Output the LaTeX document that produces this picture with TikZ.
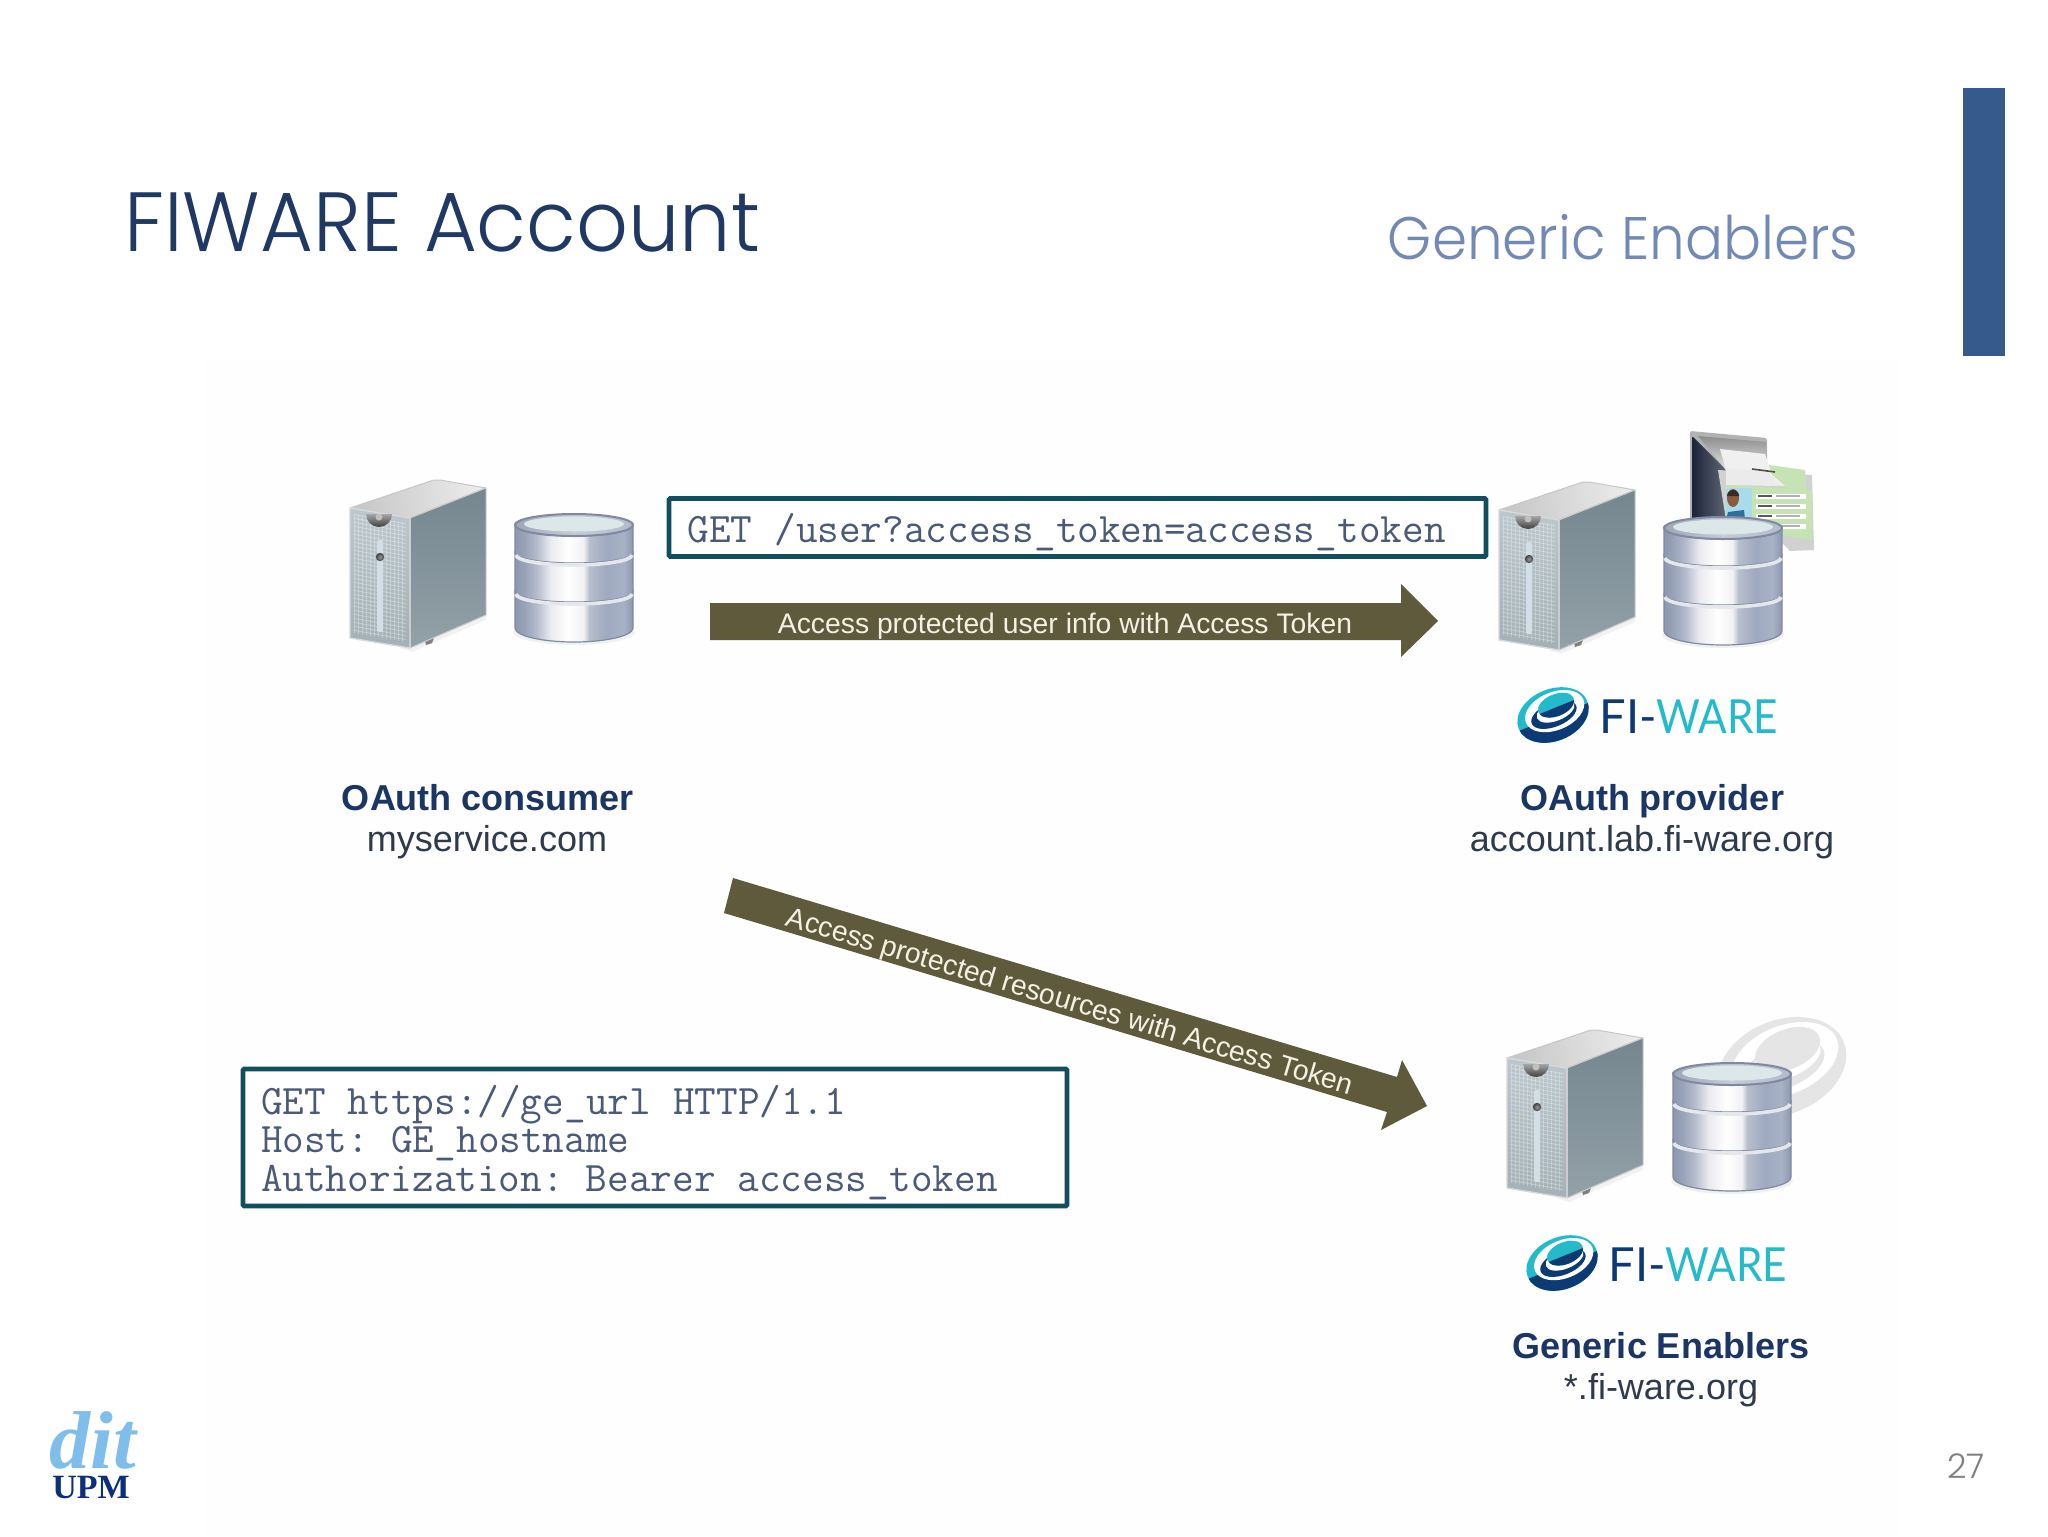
\documentclass[tikz,border=0pt]{standalone}
\usepackage{fontspec}
\setmainfont{Liberation Sans}
\newfontfamily\seriff{Liberation Serif}
\newfontfamily\gothic{Poppins Light}
\newfontfamily\logof{Lato}
\definecolor{navy}{HTML}{1F3864}
\definecolor{slideblue}{HTML}{375A8C}
\definecolor{lightblue}{HTML}{7189B4}
\definecolor{teal}{HTML}{0F4F5E}
\definecolor{codeink}{HTML}{4A5A78}
\definecolor{olive}{HTML}{5F5A3C}
\definecolor{cream}{HTML}{F4F1E4}
\definecolor{labelnavy}{HTML}{1B3564}
\definecolor{labelink}{HTML}{2F3A4C}
\definecolor{logonavy}{HTML}{0C3A75}
\definecolor{logocyan}{HTML}{23BBCB}
\definecolor{sideT}{HTML}{75868F}
\definecolor{sideB}{HTML}{93A1A8}
\definecolor{frontT}{HTML}{BCC8CE}
\definecolor{frontB}{HTML}{A3B0B6}
\definecolor{slit}{HTML}{D3DFE6}
\definecolor{dbrim}{HTML}{7F89A0}
\definecolor{dbface}{HTML}{DCE7E9}
\definecolor{faint}{HTML}{FEFEFE}
\definecolor{ditblue}{HTML}{7FBDEB}
\definecolor{upmblue}{HTML}{0B2F7C}
\definecolor{night}{HTML}{1B2438}
\definecolor{card}{HTML}{C5E3B4}
\definecolor{sky}{HTML}{A8DCEB}
\definecolor{skin}{HTML}{8A5A3C}
\definecolor{hair}{HTML}{3A2A20}
\definecolor{shirt}{HTML}{2F6FA0}
% a shade's path box spans 25bp..75bp of the declared 100bp
\pgfdeclarehorizontalshading{dbshade}{100bp}{
 rgb(0bp)=(.55,.59,.68); rgb(25bp)=(.55,.59,.68); rgb(29bp)=(.60,.64,.72); rgb(34bp)=(.70,.73,.80);
 rgb(40bp)=(.92,.92,.94); rgb(47.5bp)=(1,1,1); rgb(54bp)=(.95,.95,.96);
 rgb(56.5bp)=(.72,.75,.80); rgb(64bp)=(.62,.66,.75); rgb(71bp)=(.66,.70,.78); rgb(75bp)=(.55,.59,.68); rgb(100bp)=(.55,.59,.68)}
\pgfdeclarehorizontalshading{topshade}{100bp}{
 rgb(0bp)=(.62,.65,.72); rgb(25bp)=(.62,.65,.72); rgb(50bp)=(.78,.80,.84); rgb(75bp)=(.70,.73,.80); rgb(100bp)=(.70,.73,.80)}
\newcommand{\serverpic}{%
 \fill[gray!35,opacity=.25] (400,648) -- (430,640) -- (478,618) -- (486,616) -- (486,620) -- (412,652) -- cycle;
 \fill[black!50] (425,641) -- (434,638) -- (432,643) -- (426,645) -- cycle;
 \fill[black!50] (472,617) -- (481,613) -- (479,618) -- (474,620) -- cycle;
 \shade[top color=black!22,bottom color=black!8,shading angle=100,draw=black!22,line width=.5pt,line join=round]
   (350,508) -- (434,480) -- (440,480) -- (486,488) -- (410,518) -- cycle;
 \shade[top color=sideT,bottom color=sideB,draw=black!20,line width=.5pt,line join=round]
   (410,518) -- (486,488) -- (486,615) -- (410,648) -- cycle;
 \shade[top color=frontT,bottom color=frontB,draw=black!15,line width=.7pt,line join=round]
   (350,508) -- (410,518) -- (410,648) -- (350,638) -- cycle;
 \begin{scope}
  \clip (354,514) -- (406,523) -- (406,642) -- (354,633) -- cycle;
  \foreach \yy in {514,518,...,642} {\draw[white,opacity=.28,line width=.5pt] (352,\yy) -- (408,\yy+10);}
  \foreach \xx in {354,358,...,406} {\draw[white,opacity=.28,line width=.5pt] (\xx,510) -- (\xx,650);}
 \end{scope}
 \shade[top color=black!35,bottom color=black!75] (366,514) arc[start angle=180,end angle=0,radius=13] -- cycle;
 \fill[black!25] (379,517) circle[radius=3.5];
 \fill[slit,rounded corners=1pt] (377,540) rectangle (383,632);
 \shade[inner color=black!40,outer color=black!75] (380,557) circle[radius=4.2];
}
\newcommand{\dbpic}{%
 \fill[gray!40,opacity=.25] (519,620) -- (629,620) -- (635,632) arc[start angle=0,end angle=180,x radius=61,y radius=13] -- cycle;
 \foreach \yt/\yb/\ra/\rb in {592/628/10/14,553/592/10/10,525/553/11/10} {
  \shade[shading=dbshade,draw=dbrim,line width=.6pt]
    (515,\yt) arc[start angle=180,end angle=0,x radius=59,y radius=\ra] -- (633,\yb)
    arc[start angle=0,end angle=180,x radius=59,y radius=\rb] -- cycle;
 }
 \draw[white!80!dbrim,line width=1.8pt] (516,555) arc[start angle=180,end angle=0,x radius=58,y radius=10];
 \draw[white!80!dbrim,line width=1.8pt] (516,594) arc[start angle=180,end angle=0,x radius=58,y radius=10];
 \shade[shading=topshade,draw=dbrim,line width=1pt] (574,525) ellipse[x radius=59,y radius=11];
 \fill[dbface] (574,524) ellipse[x radius=50,y radius=7.5];
}
\newcommand{\swirlpic}[2]{%
 \begin{scope}[rotate=22]
  \fill[#1] (0,0) ellipse[x radius=37,y radius=26];
  \begin{scope}
   \clip (-40,2) rectangle (40,30);
   \fill[#2] (0,0) ellipse[x radius=37,y radius=26];
  \end{scope}
  \fill[white] (3,-3) ellipse[x radius=31,y radius=19];
  \fill[#2] (1,0) ellipse[x radius=24,y radius=12];
  \fill[white] (4,-3) ellipse[x radius=20,y radius=10];
  \fill[#1] (6.5,-8) ellipse[x radius=19,y radius=11];
  \begin{scope}
   \clip (-15,-6) rectangle (40,20);
   \fill[#2] (6.5,-8) ellipse[x radius=19,y radius=11];
  \end{scope}
 \end{scope}
}
% fixed-width space and underscore for the code boxes
\newcommand{\csp}{\hspace*{.525em}}
\newcommand{\cus}{\makebox[.525em][c]{\_}}
\newcommand{\cstrut}{\rule{0pt}{19.5pt}}
\tikzset{
 codebox/.style={draw=teal,line width=2.4pt,fill=white,rounded corners=.6pt,align=left,inner ysep=0pt,
   font=\ttfamily\fontsize{21}{19.4}\selectfont,text=codeink},
 bigarrow/.style={fill=olive},
 arrowlabel/.style={text=cream,inner sep=0pt,font=\fontsize{14.15}{16}\selectfont},
 headlabel/.style={anchor=base,text=labelnavy,inner sep=0pt,font=\bfseries\fontsize{18}{20}\selectfont},
 hostlabel/.style={anchor=base,text=labelink,inner sep=0pt,font=\fontsize{18}{20}\selectfont},
 fiA/.style={anchor=base west,inner sep=0pt,font=\logof\fontsize{23.5}{24}\selectfont},
}
\begin{document}
\begin{tikzpicture}[x=.5pt,y=-.5pt]
\useasboundingbox (0,0) rectangle (2048,1536);
\fill[white] (0,0) rectangle (2048,1536);
\fill[faint] (204,360) rectangle (1900,1536);
% slide furniture
\fill[slideblue] (1963,88) rectangle (2005,356);
\node[anchor=base west,inner sep=0pt,text=navy,xscale=.966,font=\gothic\fontsize{42}{44}\selectfont] (title) at (124,251) {FIWARE Account};
\node[anchor=base east,inner sep=0pt,text=lightblue,xscale=.94,font=\gothic\fontsize{30}{32}\selectfont] (sub) at (1859,259) {Generic Enablers};
\node[anchor=base east,inner sep=0pt,text=black!50,font=\gothic\fontsize{17}{19}\selectfont] (page) at (1985,1478) {27};
% dit logo
\node[anchor=base,inner sep=0pt,text=ditblue,font=\seriff\bfseries\itshape\fontsize{41}{42}\selectfont] (dit) at (93,1468) {dit};
\node[anchor=base,inner sep=0pt,text=upmblue,font=\seriff\bfseries\fontsize{17}{18}\selectfont] (upm) at (91,1498) {UPM};
% left group
\serverpic
\dbpic
\node[headlabel] (oc) at (488,810) {OAuth consumer};
\node[hostlabel] (ms) at (487,851) {myservice.com};
% folder icon behind the provider database
\fill[black!30,rounded corners=1pt] (1690,431) -- (1767,438) -- (1767,520) -- (1690,520) -- cycle;
\shade[left color=night,right color=night!70,rounded corners=1pt] (1692,436) -- (1726,470) -- (1726,520) -- (1692,520) -- cycle;
\shade[top color=black!45,bottom color=black!10] (1698,436) -- (1766,442) -- (1766,465) -- (1726,470) -- cycle;
\fill[black!18] (1718,470) -- (1812,475) -- (1814,550) -- (1790,551) -- (1760,520) -- (1726,520) -- cycle;
\fill[card] (1755,463) -- (1805,470) -- (1807,490) -- (1772,486) -- (1762,478) -- cycle;
\fill[black!6] (1720,449) -- (1765,454) -- (1772,475) -- (1785,486) -- (1726,480) -- (1726,470) -- cycle;
\fill[black!8] (1726,468) -- (1768,472) -- (1778,486) -- (1726,485) -- cycle;
\draw[black!70,line width=.8pt] (1752,469) -- (1775,472);
\fill[card] (1726,485) -- (1812,490) -- (1812,540) -- (1785,536) -- (1726,520) -- cycle;
\fill[sky] (1726,488) rectangle (1752,520);
\fill[skin] (1733,498) ellipse[x radius=6,y radius=9];
\fill[hair] (1727,496) arc[start angle=180,end angle=360,radius=6] -- cycle;
\fill[shirt] (1726,520) -- (1728,512) -- (1744,510) -- (1745,520) -- cycle;
\foreach \yy in {494,504,514,524} {\fill[white] (1756,\yy) rectangle (1806,\yy+5); \fill[black!65] (1758,\yy+1) rectangle (1772,\yy+3);\fill[black!30] (1776,\yy+1) rectangle (1800,\yy+3);}
% provider group
\begin{scope}[shift={(1149,2)}]
 \serverpic
\end{scope}
\begin{scope}[shift={(1149,3)}]
 \dbpic
\end{scope}
\begin{scope}[shift={(1553,715)}]
 \swirlpic{logocyan}{logonavy}
\end{scope}
\node[fiA,text=logonavy] (fi1) at (1599,733) {FI-};
\node[fiA,text=logocyan,xscale=.9] (ware1) at (1656,733) {WARE};
\node[headlabel] (op) at (1652,810) {OAuth provider};
\node[hostlabel] (ol) at (1652,851) {account.lab.fi-ware.org};
% generic enablers group
\begin{scope}[shift={(1782,1067)},scale=1.8]
 \swirlpic{black!10}{black!10}
\end{scope}
\begin{scope}[shift={(1157,550)}]
 \serverpic
\end{scope}
\begin{scope}[shift={(1158,549)}]
 \dbpic
\end{scope}
\begin{scope}[shift={(1562,1263)}]
 \swirlpic{logocyan}{logonavy}
\end{scope}
\node[fiA,text=logonavy] (fi2) at (1608,1281) {FI-};
\node[fiA,text=logocyan,xscale=.9] (ware2) at (1665,1281) {WARE};
\node[headlabel] (ge) at (1661,1358) {Generic Enablers};
\node[hostlabel] (fw) at (1661,1399) {*.fi-ware.org};
% requests
\node[codebox,minimum width=408.5pt,minimum height=29pt,text width=390pt,inner xsep=9.25pt] (req1) at (1077.5,527.5) {\cstrut GET\csp/user?access\cus token=access\cus token};
\node[codebox,minimum width=412pt,minimum height=68.5pt,text width=394pt,inner xsep=9pt] (req2) at (655,1137.5) {\cstrut GET\csp https://ge\cus url\csp HTTP/1.1\\Host:\csp GE\cus hostname\\Authorization:\csp Bearer\csp access\cus token};
% arrows
\fill[bigarrow] (710,603) -- (1401,603) -- (1401,584) -- (1438,621) -- (1401,657) -- (1401,640) -- (710,640) -- cycle;
\node[arrowlabel] (a1) at (1065,626) {Access protected user info with Access Token};
\fill[bigarrow] (733,878) -- (1397,1077) -- (1402,1060) -- (1427,1106) -- (1381,1130) -- (1387,1112) -- (724,913) -- cycle;
\node[arrowlabel,rotate=-16.7] (a2) at (1069.5,1003) {Access protected resources with Access Token};
\end{tikzpicture}
\end{document}
